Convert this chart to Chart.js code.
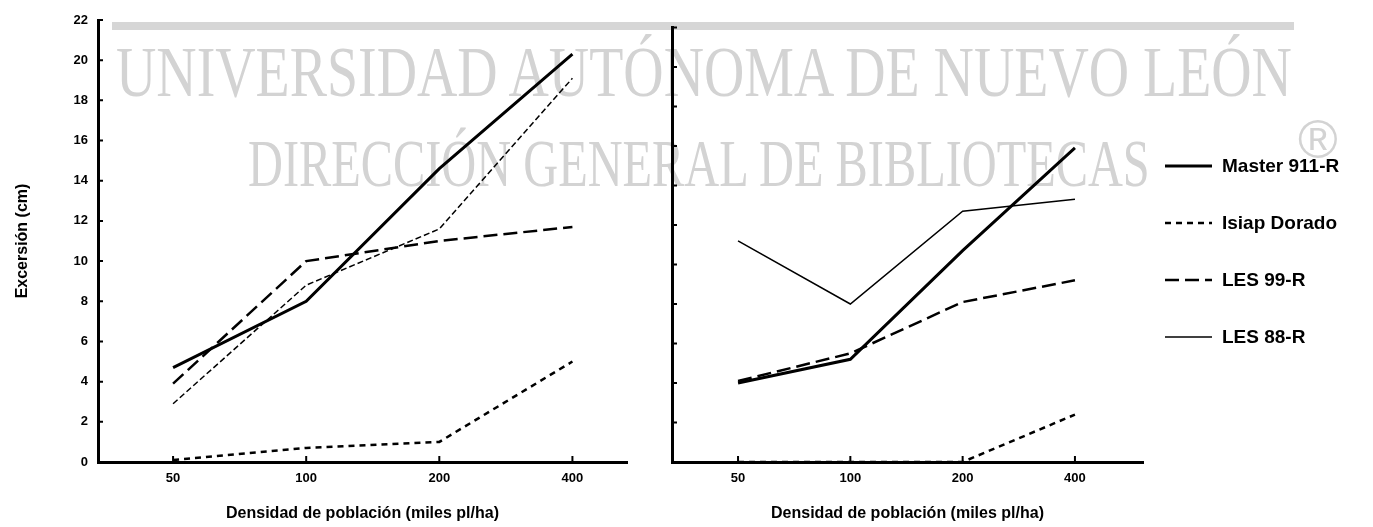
<!DOCTYPE html>
<html lang="es">
<head>
<meta charset="utf-8">
<title>Excersión según densidad de población</title>
<script src="https://cdn.jsdelivr.net/npm/chart.js@4.4.1/dist/chart.umd.min.js"></script>
<style>
  html, body { margin: 0; padding: 0; background: #fff; }
  #pagina { position: relative; width: 1373px; height: 527px; overflow: hidden; }
  #pagina canvas { position: absolute; left: 0; top: 0; }
  .marca {
    position: absolute;
    font-family: "Liberation Serif", "DejaVu Serif", serif;
    color: #d3d3d3;
    white-space: nowrap;
    line-height: 1;
    transform-origin: 0 0;
  }
  #registrado { font-family: "Liberation Sans", Arial, sans-serif; }
  #barra { position: absolute; left: 112px; top: 22px; width: 1182px; height: 8px; background: #d6d6d6; }
  #leyenda { position: absolute; left: 1165px; top: 0; font: bold 19px "Liberation Sans", Arial, sans-serif; color: #000; }
  #leyenda .fila { position: absolute; left: 0; height: 24px; display: flex; align-items: center; white-space: nowrap; }
  #leyenda svg { margin-right: 10px; }
</style>
</head>
<body>
<div id="pagina">
  <div id="barra"></div>
  <div class="marca" id="marca1" style="left:116px; top:36px; font-size:72px;" data-ancho="1176">UNIVERSIDAD AUTÓNOMA DE NUEVO LEÓN</div>
  <div class="marca" id="marca2" style="left:248px; top:129px; font-size:68px;" data-ancho="902">DIRECCIÓN GENERAL DE BIBLIOTECAS</div>
  <div class="marca" id="registrado" style="left:1298px; top:112px; font-size:54px;">®</div>
  <canvas id="panelIzq" width="1373" height="527"></canvas>
  <canvas id="panelDer" width="1373" height="527"></canvas>
  <div id="leyenda"></div>
</div>
<script>
// densidad de población (miles pl/ha)
const densidad = ['50', '100', '200', '400'];
const variedades = ['Master 911-R', 'Isiap Dorado', 'LES 99-R', 'LES 88-R'];

// excersión (cm), primer gráfico
const masterIzq = [4.7, 8.0, 14.6, 20.3];
const isiapIzq = [0.1, 0.7, 1.0, 5.0];
const les99Izq = [3.9, 10.0, 11.0, 11.7];
const les88Izq = [2.9, 8.8, 11.6, 19.1];

// excersión (cm), segundo gráfico
const masterDer = [4.0, 5.2, 10.7, 15.9];
const isiapDer = [0, 0, 0, 2.4];
const les99Der = [4.1, 5.5, 8.1, 9.2];
const les88Der = [11.2, 8.0, 12.7, 13.3];

const estilos = [
    {borderWidth: 3, borderDash: []},
    {borderWidth: 2.5, borderDash: [6, 5]},
    {borderWidth: 2.5, borderDash: [14, 6]},
    {borderWidth: 1.5, borderDash: []}
];

Chart.defaults.font.family = '"Liberation Sans", Arial, sans-serif';
Chart.defaults.color = '#000';

// Ajusta el ancho de la marca de agua a su caja
document.querySelectorAll('.marca[data-ancho]').forEach(el => {
    const escala = Number(el.dataset.ancho) / el.offsetWidth;
    el.style.transform = `scaleX(${escala})`;
});

// pequeñas marcas hacia adentro sobre los ejes
const marcasInternas = {
    id: 'marcasInternas',
    afterDraw(chart) {
        const {ctx, chartArea, scales: {x, y}} = chart;
        ctx.save();
        ctx.strokeStyle = '#000';
        ctx.lineWidth = 2;
        ctx.beginPath();
        y.ticks.forEach(t => {
            const py = y.getPixelForValue(t.value);
            ctx.moveTo(chartArea.left, py);
            ctx.lineTo(chartArea.left + 5, py);
        });
        x.ticks.forEach(t => {
            const px = x.getPixelForValue(t.value);
            ctx.moveTo(px, chartArea.bottom);
            ctx.lineTo(px, chartArea.bottom - 6);
        });
        ctx.stroke();
        ctx.restore();
    }
};

function serie(valores) {
    return valores.map((y, i) => ({x: i, y: y}));
}

function crearPanel(id, series, opts) {
    const datasets = series.map((valores, i) => ({
        label: variedades[i],
        data: serie(valores),
        borderColor: '#000',
        backgroundColor: '#000',
        borderWidth: estilos[i].borderWidth,
        borderDash: (opts.guiones && opts.guiones[i]) || estilos[i].borderDash,
        pointRadius: 0,
        tension: 0
    }));

    return new Chart(document.getElementById(id), {
        type: 'line',
        data: {datasets: datasets},
        options: {
            responsive: false,
            animation: false,
            layout: {padding: opts.padding},
            plugins: {legend: {display: false}, tooltip: {enabled: false}},
            scales: {
                x: {
                    type: 'linear',
                    min: opts.xMin,
                    max: opts.xMax,
                    afterBuildTicks: scale => {
                        scale.ticks = densidad.map((_, i) => ({value: i}));
                    },
                    afterFit: scale => { scale.height = 65; },
                    grid: {display: true, drawOnChartArea: false, drawTicks: false},
                    border: {display: true, color: '#000', width: 3},
                    ticks: {
                        autoSkip: false,
                        padding: 9,
                        font: {size: 13, weight: 'bold'},
                        callback: value => densidad[value]
                    },
                    title: {
                        display: true,
                        text: 'Densidad de población (miles pl/ha)',
                        font: {size: 16, weight: 'bold'},
                        padding: {top: 0, bottom: 4}
                    }
                },
                y: {
                    min: 0,
                    max: 22,
                    afterFit: scale => { scale.width = opts.anchoY; },
                    grid: {display: true, drawOnChartArea: false, drawTicks: false},
                    border: {display: true, color: '#000', width: 3},
                    ticks: {
                        display: opts.etiquetasY,
                        stepSize: 2,
                        padding: 10,
                        font: {size: 13, weight: 'bold'}
                    },
                    title: {
                        display: opts.etiquetasY,
                        text: 'Excersión (cm)',
                        font: {size: 16, weight: 'bold'},
                        padding: {top: 13, bottom: 0}
                    }
                }
            }
        },
        plugins: [marcasInternas]
    });
}

const panelIzq = crearPanel('panelIzq', [masterIzq, isiapIzq, les99Izq, les88Izq], {
    padding: {left: 0, top: 20, right: 1373 - 627, bottom: 0},
    xMin: -0.564, xMax: 3.41,
    anchoY: 98,
    etiquetasY: true,
    guiones: [null, null, null, [6, 3]]
});

const panelDer = crearPanel('panelDer', [masterDer, isiapDer, les99Der, les88Der], {
    padding: {left: 660, top: 27.5, right: 1373 - 1143, bottom: 0},
    xMin: -0.588, xMax: 3.606,
    anchoY: 12,
    etiquetasY: false
});

// leyenda común, a partir de las series del segundo gráfico
function construirLeyenda(chart) {
    const caja = document.getElementById('leyenda');
    const items = Chart.defaults.plugins.legend.labels.generateLabels(chart);
    const filas = [166, 223, 280, 337];
    items.forEach((item, i) => {
        const fila = document.createElement('div');
        fila.className = 'fila';
        fila.style.top = (filas[i] - 12) + 'px';
        const dash = (item.lineDash || []).join(' ');
        fila.innerHTML =
            `<svg width="47" height="8"><line x1="0" y1="4" x2="47" y2="4" stroke="${item.strokeStyle}" ` +
            `stroke-width="${item.lineWidth}" stroke-dasharray="${dash}"/></svg>` +
            `<span>${item.text}</span>`;
        caja.appendChild(fila);
    });
}
construirLeyenda(panelDer);
</script>
</body>
</html>
